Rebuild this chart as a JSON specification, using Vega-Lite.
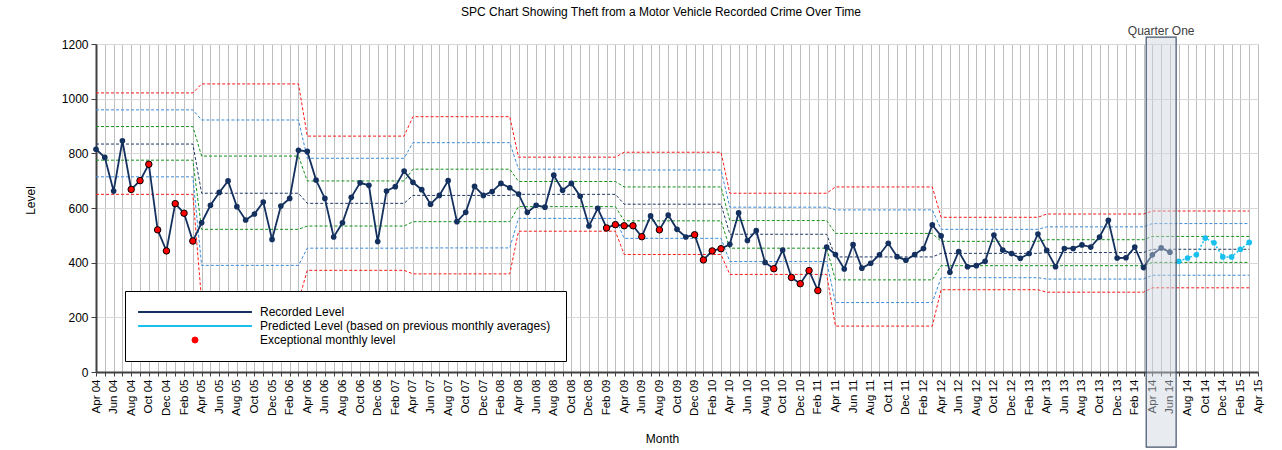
{
  "$schema": "https://vega.github.io/schema/vega-lite/v6.json",
  "width": 1162,
  "height": 328,
  "autosize": "none",
  "padding": {"left": 96, "top": 44, "right": 24, "bottom": 78},
  "background": "white",
  "title": {
    "text": "SPC Chart Showing Theft from a Motor Vehicle Recorded Crime Over Time",
    "font": "Liberation Sans",
    "fontSize": 12,
    "fontWeight": "normal",
    "color": "#000000",
    "anchor": "middle",
    "dx": -16,
    "offset": 6
  },
  "config": {
    "font": "Liberation Sans",
    "view": {"stroke": null}
  },
  "datasets": {
    "recorded": [
      {"m": 0, "month": "Apr 04", "level": 815, "exceptional": false},
      {"m": 1, "month": "May 04", "level": 785, "exceptional": false},
      {"m": 2, "month": "Jun 04", "level": 662, "exceptional": false},
      {"m": 3, "month": "Jul 04", "level": 846, "exceptional": false},
      {"m": 4, "month": "Aug 04", "level": 668, "exceptional": true},
      {"m": 5, "month": "Sep 04", "level": 700, "exceptional": true},
      {"m": 6, "month": "Oct 04", "level": 760, "exceptional": true},
      {"m": 7, "month": "Nov 04", "level": 520, "exceptional": true},
      {"m": 8, "month": "Dec 04", "level": 443, "exceptional": true},
      {"m": 9, "month": "Jan 05", "level": 616, "exceptional": true},
      {"m": 10, "month": "Feb 05", "level": 581, "exceptional": true},
      {"m": 11, "month": "Mar 05", "level": 479, "exceptional": true},
      {"m": 12, "month": "Apr 05", "level": 546, "exceptional": false},
      {"m": 13, "month": "May 05", "level": 610, "exceptional": false},
      {"m": 14, "month": "Jun 05", "level": 657, "exceptional": false},
      {"m": 15, "month": "Jul 05", "level": 699, "exceptional": false},
      {"m": 16, "month": "Aug 05", "level": 605, "exceptional": false},
      {"m": 17, "month": "Sep 05", "level": 556, "exceptional": false},
      {"m": 18, "month": "Oct 05", "level": 578, "exceptional": false},
      {"m": 19, "month": "Nov 05", "level": 622, "exceptional": false},
      {"m": 20, "month": "Dec 05", "level": 485, "exceptional": false},
      {"m": 21, "month": "Jan 06", "level": 607, "exceptional": false},
      {"m": 22, "month": "Feb 06", "level": 635, "exceptional": false},
      {"m": 23, "month": "Mar 06", "level": 811, "exceptional": false},
      {"m": 24, "month": "Apr 06", "level": 807, "exceptional": false},
      {"m": 25, "month": "May 06", "level": 702, "exceptional": false},
      {"m": 26, "month": "Jun 06", "level": 635, "exceptional": false},
      {"m": 27, "month": "Jul 06", "level": 494, "exceptional": false},
      {"m": 28, "month": "Aug 06", "level": 546, "exceptional": false},
      {"m": 29, "month": "Sep 06", "level": 639, "exceptional": false},
      {"m": 30, "month": "Oct 06", "level": 692, "exceptional": false},
      {"m": 31, "month": "Nov 06", "level": 683, "exceptional": false},
      {"m": 32, "month": "Dec 06", "level": 477, "exceptional": false},
      {"m": 33, "month": "Jan 07", "level": 662, "exceptional": false},
      {"m": 34, "month": "Feb 07", "level": 678, "exceptional": false},
      {"m": 35, "month": "Mar 07", "level": 735, "exceptional": false},
      {"m": 36, "month": "Apr 07", "level": 694, "exceptional": false},
      {"m": 37, "month": "May 07", "level": 667, "exceptional": false},
      {"m": 38, "month": "Jun 07", "level": 614, "exceptional": false},
      {"m": 39, "month": "Jul 07", "level": 646, "exceptional": false},
      {"m": 40, "month": "Aug 07", "level": 700, "exceptional": false},
      {"m": 41, "month": "Sep 07", "level": 550, "exceptional": false},
      {"m": 42, "month": "Oct 07", "level": 584, "exceptional": false},
      {"m": 43, "month": "Nov 07", "level": 679, "exceptional": false},
      {"m": 44, "month": "Dec 07", "level": 646, "exceptional": false},
      {"m": 45, "month": "Jan 08", "level": 660, "exceptional": false},
      {"m": 46, "month": "Feb 08", "level": 690, "exceptional": false},
      {"m": 47, "month": "Mar 08", "level": 674, "exceptional": false},
      {"m": 48, "month": "Apr 08", "level": 651, "exceptional": false},
      {"m": 49, "month": "May 08", "level": 584, "exceptional": false},
      {"m": 50, "month": "Jun 08", "level": 610, "exceptional": false},
      {"m": 51, "month": "Jul 08", "level": 603, "exceptional": false},
      {"m": 52, "month": "Aug 08", "level": 720, "exceptional": false},
      {"m": 53, "month": "Sep 08", "level": 665, "exceptional": false},
      {"m": 54, "month": "Oct 08", "level": 690, "exceptional": false},
      {"m": 55, "month": "Nov 08", "level": 643, "exceptional": false},
      {"m": 56, "month": "Dec 08", "level": 534, "exceptional": false},
      {"m": 57, "month": "Jan 09", "level": 599, "exceptional": false},
      {"m": 58, "month": "Feb 09", "level": 527, "exceptional": true},
      {"m": 59, "month": "Mar 09", "level": 539, "exceptional": true},
      {"m": 60, "month": "Apr 09", "level": 535, "exceptional": true},
      {"m": 61, "month": "May 09", "level": 535, "exceptional": true},
      {"m": 62, "month": "Jun 09", "level": 495, "exceptional": true},
      {"m": 63, "month": "Jul 09", "level": 571, "exceptional": false},
      {"m": 64, "month": "Aug 09", "level": 520, "exceptional": true},
      {"m": 65, "month": "Sep 09", "level": 574, "exceptional": false},
      {"m": 66, "month": "Oct 09", "level": 522, "exceptional": false},
      {"m": 67, "month": "Nov 09", "level": 494, "exceptional": false},
      {"m": 68, "month": "Dec 09", "level": 502, "exceptional": true},
      {"m": 69, "month": "Jan 10", "level": 410, "exceptional": true},
      {"m": 70, "month": "Feb 10", "level": 443, "exceptional": true},
      {"m": 71, "month": "Mar 10", "level": 451, "exceptional": true},
      {"m": 72, "month": "Apr 10", "level": 467, "exceptional": false},
      {"m": 73, "month": "May 10", "level": 582, "exceptional": false},
      {"m": 74, "month": "Jun 10", "level": 481, "exceptional": false},
      {"m": 75, "month": "Jul 10", "level": 517, "exceptional": false},
      {"m": 76, "month": "Aug 10", "level": 401, "exceptional": false},
      {"m": 77, "month": "Sep 10", "level": 378, "exceptional": true},
      {"m": 78, "month": "Oct 10", "level": 446, "exceptional": false},
      {"m": 79, "month": "Nov 10", "level": 346, "exceptional": true},
      {"m": 80, "month": "Dec 10", "level": 323, "exceptional": true},
      {"m": 81, "month": "Jan 11", "level": 371, "exceptional": true},
      {"m": 82, "month": "Feb 11", "level": 298, "exceptional": true},
      {"m": 83, "month": "Mar 11", "level": 457, "exceptional": false},
      {"m": 84, "month": "Apr 11", "level": 430, "exceptional": false},
      {"m": 85, "month": "May 11", "level": 377, "exceptional": false},
      {"m": 86, "month": "Jun 11", "level": 466, "exceptional": false},
      {"m": 87, "month": "Jul 11", "level": 380, "exceptional": false},
      {"m": 88, "month": "Aug 11", "level": 398, "exceptional": false},
      {"m": 89, "month": "Sep 11", "level": 429, "exceptional": false},
      {"m": 90, "month": "Oct 11", "level": 471, "exceptional": false},
      {"m": 91, "month": "Nov 11", "level": 422, "exceptional": false},
      {"m": 92, "month": "Dec 11", "level": 409, "exceptional": false},
      {"m": 93, "month": "Jan 12", "level": 430, "exceptional": false},
      {"m": 94, "month": "Feb 12", "level": 452, "exceptional": false},
      {"m": 95, "month": "Mar 12", "level": 538, "exceptional": false},
      {"m": 96, "month": "Apr 12", "level": 498, "exceptional": false},
      {"m": 97, "month": "May 12", "level": 365, "exceptional": false},
      {"m": 98, "month": "Jun 12", "level": 441, "exceptional": false},
      {"m": 99, "month": "Jul 12", "level": 385, "exceptional": false},
      {"m": 100, "month": "Aug 12", "level": 389, "exceptional": false},
      {"m": 101, "month": "Sep 12", "level": 405, "exceptional": false},
      {"m": 102, "month": "Oct 12", "level": 501, "exceptional": false},
      {"m": 103, "month": "Nov 12", "level": 446, "exceptional": false},
      {"m": 104, "month": "Dec 12", "level": 433, "exceptional": false},
      {"m": 105, "month": "Jan 13", "level": 416, "exceptional": false},
      {"m": 106, "month": "Feb 13", "level": 433, "exceptional": false},
      {"m": 107, "month": "Mar 13", "level": 505, "exceptional": false},
      {"m": 108, "month": "Apr 13", "level": 445, "exceptional": false},
      {"m": 109, "month": "May 13", "level": 385, "exceptional": false},
      {"m": 110, "month": "Jun 13", "level": 452, "exceptional": false},
      {"m": 111, "month": "Jul 13", "level": 452, "exceptional": false},
      {"m": 112, "month": "Aug 13", "level": 465, "exceptional": false},
      {"m": 113, "month": "Sep 13", "level": 457, "exceptional": false},
      {"m": 114, "month": "Oct 13", "level": 494, "exceptional": false},
      {"m": 115, "month": "Nov 13", "level": 555, "exceptional": false},
      {"m": 116, "month": "Dec 13", "level": 417, "exceptional": false},
      {"m": 117, "month": "Jan 14", "level": 418, "exceptional": false},
      {"m": 118, "month": "Feb 14", "level": 457, "exceptional": false},
      {"m": 119, "month": "Mar 14", "level": 382, "exceptional": false},
      {"m": 120, "month": "Apr 14", "level": 429, "exceptional": false},
      {"m": 121, "month": "May 14", "level": 454, "exceptional": false},
      {"m": 122, "month": "Jun 14", "level": 438, "exceptional": false}
    ],
    "predicted": [
      {"m": 123, "month": "Jul 14", "level": 405},
      {"m": 124, "month": "Aug 14", "level": 417},
      {"m": 125, "month": "Sep 14", "level": 429},
      {"m": 126, "month": "Oct 14", "level": 490},
      {"m": 127, "month": "Nov 14", "level": 473},
      {"m": 128, "month": "Dec 14", "level": 421},
      {"m": 129, "month": "Jan 15", "level": 421},
      {"m": 130, "month": "Feb 15", "level": 449},
      {"m": 131, "month": "Mar 15", "level": 474}
    ],
    "limits": [
      {"period": "2004/05", "m": 0, "ucl3": 1021, "ucl2": 959, "ucl1": 898, "mean": 834, "lcl1": 775, "lcl2": 714, "lcl3": 650},
      {"period": "2004/05", "m": 11, "ucl3": 1021, "ucl2": 959, "ucl1": 898, "mean": 834, "lcl1": 775, "lcl2": 714, "lcl3": 650},
      {"period": "2005/06", "m": 12, "ucl3": 1054, "ucl2": 922, "ucl1": 790, "mean": 654, "lcl1": 522, "lcl2": 390, "lcl3": 259},
      {"period": "2005/06", "m": 23, "ucl3": 1054, "ucl2": 922, "ucl1": 790, "mean": 654, "lcl1": 522, "lcl2": 390, "lcl3": 259},
      {"period": "2006/07", "m": 24, "ucl3": 863, "ucl2": 782, "ucl1": 699, "mean": 617, "lcl1": 534, "lcl2": 453, "lcl3": 372},
      {"period": "2006/07", "m": 35, "ucl3": 863, "ucl2": 782, "ucl1": 699, "mean": 617, "lcl1": 534, "lcl2": 453, "lcl3": 372},
      {"period": "2007/08", "m": 36, "ucl3": 934, "ucl2": 839, "ucl1": 742, "mean": 646, "lcl1": 550, "lcl2": 454, "lcl3": 359},
      {"period": "2007/08", "m": 47, "ucl3": 934, "ucl2": 839, "ucl1": 742, "mean": 646, "lcl1": 550, "lcl2": 454, "lcl3": 359},
      {"period": "2008/09", "m": 48, "ucl3": 786, "ucl2": 742, "ucl1": 697, "mean": 650, "lcl1": 605, "lcl2": 562, "lcl3": 515},
      {"period": "2008/09", "m": 59, "ucl3": 786, "ucl2": 742, "ucl1": 697, "mean": 650, "lcl1": 605, "lcl2": 562, "lcl3": 515},
      {"period": "2009/10", "m": 60, "ucl3": 804, "ucl2": 739, "ucl1": 677, "mean": 614, "lcl1": 553, "lcl2": 489, "lcl3": 430},
      {"period": "2009/10", "m": 71, "ucl3": 804, "ucl2": 739, "ucl1": 677, "mean": 614, "lcl1": 553, "lcl2": 489, "lcl3": 430},
      {"period": "2010/11", "m": 72, "ucl3": 654, "ucl2": 603, "ucl1": 554, "mean": 504, "lcl1": 453, "lcl2": 404, "lcl3": 357},
      {"period": "2010/11", "m": 83, "ucl3": 654, "ucl2": 603, "ucl1": 554, "mean": 504, "lcl1": 453, "lcl2": 404, "lcl3": 357},
      {"period": "2011/12", "m": 84, "ucl3": 677, "ucl2": 593, "ucl1": 507, "mean": 421, "lcl1": 337, "lcl2": 254, "lcl3": 168},
      {"period": "2011/12", "m": 95, "ucl3": 677, "ucl2": 593, "ucl1": 507, "mean": 421, "lcl1": 337, "lcl2": 254, "lcl3": 168},
      {"period": "2012/13", "m": 96, "ucl3": 566, "ucl2": 522, "ucl1": 478, "mean": 434, "lcl1": 389, "lcl2": 345, "lcl3": 301},
      {"period": "2012/13", "m": 107, "ucl3": 566, "ucl2": 522, "ucl1": 478, "mean": 434, "lcl1": 389, "lcl2": 345, "lcl3": 301},
      {"period": "2013/14", "m": 108, "ucl3": 578, "ucl2": 531, "ucl1": 484, "mean": 437, "lcl1": 389, "lcl2": 340, "lcl3": 292},
      {"period": "2013/14", "m": 119, "ucl3": 578, "ucl2": 531, "ucl1": 484, "mean": 437, "lcl1": 389, "lcl2": 340, "lcl3": 292},
      {"period": "2014/15", "m": 120, "ucl3": 589, "ucl2": 543, "ucl1": 496, "mean": 449, "lcl1": 401, "lcl2": 354, "lcl3": 308},
      {"period": "2014/15", "m": 131, "ucl3": 589, "ucl2": 543, "ucl1": 496, "mean": 449, "lcl1": 401, "lcl2": 354, "lcl3": 308}
    ],
    "annotation": [
      {"label": "Quarter One", "m": 119.3, "m_end": 122.7, "level": 1225, "level_end": -275, "m_mid": 121, "label_level": 1248}
    ]
  },
  "encoding": {
    "x": {
      "field": "m",
      "type": "quantitative",
      "scale": {"domain": [0, 132], "nice": false, "zero": false},
      "axis": {
        "title": "Month",
        "titleFont": "Liberation Sans",
        "titleFontSize": 12,
        "titleFontWeight": "normal",
        "titleColor": "#000000",
        "titleX": 566,
        "titleY": 66,
        "titleAlign": "center",
        "titleBaseline": "middle",
        "values": [0,1,2,3,4,5,6,7,8,9,10,11,12,13,14,15,16,17,18,19,20,21,22,23,24,25,26,27,28,29,30,31,32,33,34,35,36,37,38,39,40,41,42,43,44,45,46,47,48,49,50,51,52,53,54,55,56,57,58,59,60,61,62,63,64,65,66,67,68,69,70,71,72,73,74,75,76,77,78,79,80,81,82,83,84,85,86,87,88,89,90,91,92,93,94,95,96,97,98,99,100,101,102,103,104,105,106,107,108,109,110,111,112,113,114,115,116,117,118,119,120,121,122,123,124,125,126,127,128,129,130,131,132],
        "labelExpr": "datum.value % 2 === 0 ? ['Jan','Feb','Mar','Apr','May','Jun','Jul','Aug','Sep','Oct','Nov','Dec'][(datum.value + 3) % 12] + ' ' + ((floor((datum.value + 3) / 12) + 4) < 10 ? '0' : '') + (floor((datum.value + 3) / 12) + 4) : ''",
        "labelAngle": -90,
        "labelFontSize": 11.5,
        "labelColor": "#000000",
        "labelPadding": 3,
        "labelOverlap": false,
        "labelBound": false,
        "labelFlush": false,
        "tickSize": 4,
        "tickColor": "#404040",
        "domainColor": "#404040",
        "domainWidth": 2,
        "grid": true,
        "gridColor": "#BEBEBE",
        "gridWidth": 1
      }
    },
    "y": {
      "field": "level",
      "type": "quantitative",
      "scale": {"domain": [0, 1200], "nice": false},
      "axis": {
        "title": "Level",
        "titleFont": "Liberation Sans",
        "titleFontSize": 12,
        "titleFontWeight": "normal",
        "titleColor": "#000000",
        "titleX": -66,
        "titleY": 156,
        "titleAlign": "center",
        "titleBaseline": "middle",
        "values": [0, 200, 400, 600, 800, 1000, 1200],
        "format": "d",
        "labelFontSize": 12,
        "labelColor": "#000000",
        "labelPadding": 3,
        "tickSize": 5,
        "tickColor": "#404040",
        "domainColor": "#404040",
        "domainWidth": 2,
        "grid": true,
        "gridColor": "#D9D9D9",
        "gridWidth": 1
      }
    }
  },
  "layer": [
    {
      "data": {"name": "limits"},
      "transform": [{"fold": ["ucl3", "lcl3"], "as": ["limit", "level"]}],
      "mark": {"type": "line", "color": "#FF1A1A", "strokeWidth": 1, "strokeDash": [3, 2]},
      "encoding": {"detail": {"field": "limit"}}
    },
    {
      "data": {"name": "limits"},
      "transform": [{"fold": ["ucl2", "lcl2"], "as": ["limit", "level"]}],
      "mark": {"type": "line", "color": "#3A8CDB", "strokeWidth": 1, "strokeDash": [3, 2]},
      "encoding": {"detail": {"field": "limit"}}
    },
    {
      "data": {"name": "limits"},
      "transform": [{"fold": ["ucl1", "lcl1"], "as": ["limit", "level"]}],
      "mark": {"type": "line", "color": "#13931A", "strokeWidth": 1, "strokeDash": [3, 2]},
      "encoding": {"detail": {"field": "limit"}}
    },
    {
      "data": {"name": "limits"},
      "transform": [{"fold": ["mean"], "as": ["limit", "level"]}],
      "mark": {"type": "line", "color": "#1F3864", "strokeWidth": 1, "strokeDash": [3, 2]},
      "encoding": {"detail": {"field": "limit"}}
    },
    {
      "data": {"name": "recorded"},
      "mark": {"type": "line", "strokeWidth": 1.8},
      "encoding": {
        "color": {
          "datum": "Recorded Level",
          "scale": {
            "domain": ["Recorded Level", "Predicted Level (based on previous monthly averages)", "Exceptional monthly level"],
            "range": ["#13305E", "#19C0EF", "#FF0000"]
          },
          "legend": {
            "title": null,
            "orient": "none",
            "legendX": 29,
            "legendY": 247,
            "padding": 15,
            "strokeColor": "#000000",
            "fillColor": "#FFFFFF",
            "symbolSize": 40,
            "symbolOffset": 49,
            "labelOffset": 59,
            "labelFont": "Liberation Sans",
            "labelFontSize": 12,
            "labelColor": "#000000",
            "labelLimit": 500,
            "rowPadding": 2,
            "encode": {
              "symbols": {
                "update": {
                  "shape": {"signal": "datum.value === 'Exceptional monthly level' ? 'circle' : 'M-18,0H18'"},
                  "size": {"signal": "datum.value === 'Exceptional monthly level' ? 36 : 40"},
                  "fill": {"signal": "datum.value === 'Exceptional monthly level' ? '#FF0000' : 'transparent'"},
                  "stroke": {"signal": "datum.value === 'Recorded Level' ? '#13305E' : (datum.value === 'Exceptional monthly level' ? '#000000' : '#19C0EF')"},
                  "strokeWidth": {"signal": "datum.value === 'Exceptional monthly level' ? 1 : 2.2"},
                  "opacity": {"value": 1}
                }
              }
            }
          }
        }
      }
    },
    {
      "data": {"name": "recorded"},
      "mark": {"type": "circle", "size": 32, "opacity": 1},
      "encoding": {"color": {"datum": "Recorded Level"}}
    },
    {
      "data": {"name": "recorded"},
      "transform": [{"filter": "datum.exceptional"}],
      "mark": {"type": "circle", "size": 42, "opacity": 1, "stroke": "#000000", "strokeWidth": 1},
      "encoding": {"color": {"datum": "Exceptional monthly level"}}
    },
    {
      "data": {"name": "predicted"},
      "mark": {"type": "line", "strokeWidth": 1.5, "strokeDash": [2, 2]},
      "encoding": {"color": {"datum": "Predicted Level (based on previous monthly averages)"}}
    },
    {
      "data": {"name": "predicted"},
      "mark": {"type": "circle", "size": 32, "opacity": 1},
      "encoding": {"color": {"datum": "Predicted Level (based on previous monthly averages)"}}
    },
    {
      "data": {"name": "annotation"},
      "mark": {"type": "rect", "fill": "#CDD4DD", "fillOpacity": 0.45, "stroke": "#44546A", "strokeWidth": 1.2, "clip": false},
      "encoding": {
        "x2": {"field": "m_end"},
        "y2": {"field": "level_end"}
      }
    },
    {
      "data": {"name": "annotation"},
      "mark": {"type": "text", "font": "Liberation Sans", "fontSize": 12, "color": "#404040", "baseline": "middle", "align": "center", "clip": false},
      "encoding": {
        "x": {"field": "m_mid", "type": "quantitative"},
        "y": {"field": "label_level", "type": "quantitative"},
        "text": {"field": "label"}
      }
    }
  ]
}
